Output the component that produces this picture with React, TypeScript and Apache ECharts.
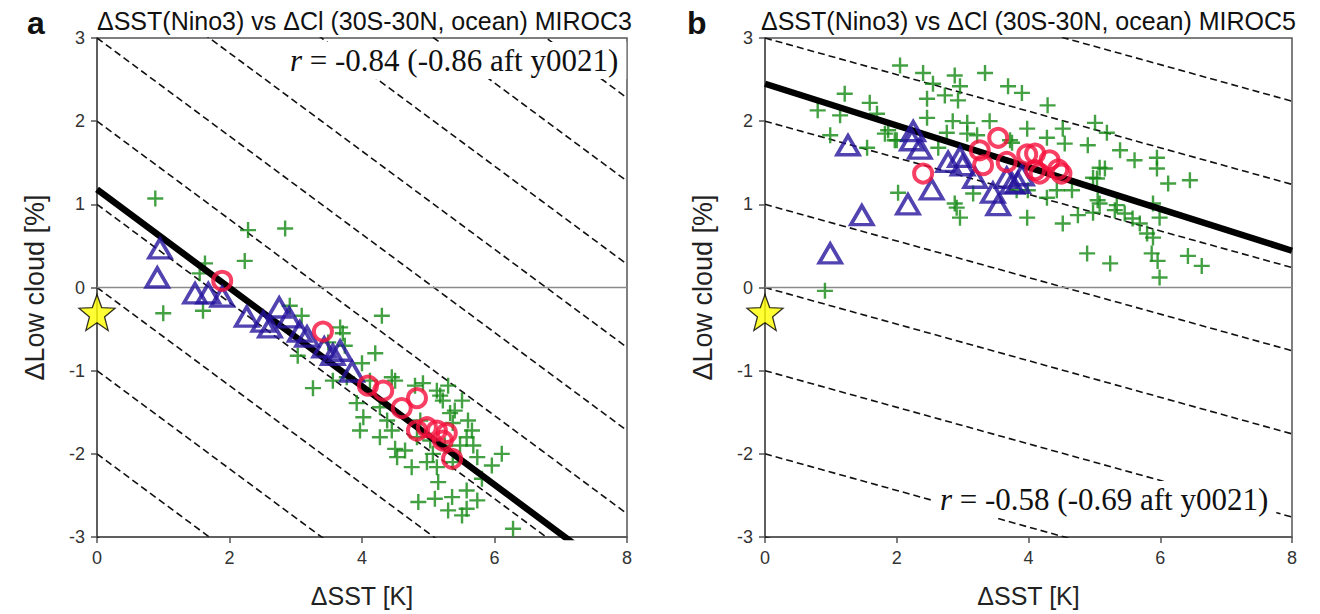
import React, { useEffect, useRef } from "react";
import * as echarts from "echarts";

// ---------- Panel a: MIROC3 ----------
const miroc3Cross: [number, number][] = [
  [0.88, 1.07], [2.28, 0.69], [2.84, 0.71], [2.23, 0.32], [1.63, 0.29], [1.55, 0.17],
  [1.0, -0.31], [1.6, -0.28], [2.91, -0.22], [3.09, -0.34], [3.67, -0.48], [3.71, -0.55],
  [4.3, -0.34], [3.03, -0.82], [4.2, -0.79], [4.0, -0.91], [3.26, -1.21], [3.56, -1.12],
  [3.77, -1.08], [4.45, -1.08], [4.5, -1.12], [3.92, -1.39], [4.02, -1.56], [3.97, -1.72],
  [4.27, -1.44], [4.38, -1.6], [4.45, -1.72], [4.27, -1.8], [4.65, -1.96], [4.53, -2.04],
  [4.75, -2.16], [4.92, -1.15], [5.13, -1.24], [5.18, -1.3], [5.51, -1.36], [5.22, -1.36],
  [5.33, -1.51], [5.37, -1.63], [5.6, -1.6], [5.66, -1.72], [5.58, -1.8], [5.68, -1.9],
  [5.07, -2.0], [4.98, -2.1], [5.13, -2.16], [5.37, -2.1], [5.74, -2.04], [6.11, -2.0],
  [5.96, -2.14], [5.81, -2.3], [5.58, -2.44], [5.36, -2.52], [5.1, -2.54], [4.85, -2.58],
  [5.3, -2.68], [5.58, -2.66], [5.74, -2.56], [5.51, -2.74], [5.15, -2.34], [6.28, -2.9],
  [4.12, -1.12], [4.83, -1.8], [4.5, -1.94], [3.49, -0.66], [3.74, -0.7], [4.8, -1.18],
  [5.3, -1.18], [5.4, -1.48], [4.88, -1.6], [5.03, -1.84], [5.25, -1.9], [5.48, -1.9],
];
const miroc3Tri: [number, number][] = [
  [0.95, 0.47], [0.91, 0.12], [1.48, -0.07], [1.68, -0.07], [1.89, -0.11], [2.26, -0.35],
  [2.51, -0.41], [2.61, -0.48], [2.75, -0.24], [2.9, -0.36], [3.06, -0.53], [3.17, -0.59],
  [3.43, -0.72], [3.56, -0.81], [3.67, -0.76], [3.85, -1.01],
];
const miroc3Circle: [number, number][] = [
  [1.89, 0.08], [3.41, -0.53], [4.09, -1.18], [4.32, -1.24], [4.6, -1.45], [4.83, -1.33],
  [4.83, -1.72], [4.98, -1.68], [5.13, -1.72], [5.28, -1.75], [5.22, -1.84], [5.36, -2.06],
];
const miroc3Fit = { intercept: 1.18, slope: -0.592 };
const miroc3Guides = [-3, -2, -1, 0, 1, 2, 3, 4, 5, 6, 7, 8];
const miroc3GuideSlope = -0.59;
const miroc3R = "-0.84 (-0.86 aft y0021)";

// ---------- Panel b: MIROC5 ----------
const miroc5Cross: [number, number][] = [
  [2.05, 2.67], [2.4, 2.58], [2.88, 2.55], [3.34, 2.58], [2.55, 2.45], [2.96, 2.42],
  [1.21, 2.33], [2.73, 2.31], [1.59, 2.22], [2.46, 2.27], [2.93, 2.25], [0.8, 2.13],
  [1.14, 2.07], [1.7, 2.09], [2.46, 2.04], [2.85, 2.0], [3.07, 1.98], [3.41, 2.0],
  [3.69, 2.42], [3.9, 2.34], [3.98, 1.91], [0.99, 1.83], [1.82, 1.85], [2.0, 1.77],
  [1.55, 1.68], [2.76, 1.86], [3.07, 1.85], [3.22, 1.83], [2.63, 1.68], [3.72, 1.77],
  [3.82, 1.17], [3.98, 0.84], [3.16, 1.13], [2.91, 0.96], [2.96, 0.84], [2.02, 1.14],
  [0.91, -0.04], [4.29, 2.19], [5.01, 1.98], [5.19, 1.86], [5.39, 1.65], [5.61, 1.53],
  [4.9, 1.71], [5.08, 1.44], [4.98, 1.32], [4.52, 1.91], [4.55, 1.73], [4.28, 1.8],
  [3.75, 1.74], [1.87, 1.89], [1.97, 1.77], [4.28, 1.08], [4.43, 1.17], [4.66, 1.17],
  [5.05, 1.05], [5.34, 0.99], [2.88, 1.01], [3.99, 1.17], [5.95, 1.56], [5.95, 1.43],
  [6.12, 1.25], [6.45, 1.29], [5.16, 1.43], [5.04, 1.31], [5.08, 1.01], [4.75, 0.87],
  [4.98, 0.9], [5.31, 0.93], [5.46, 0.89], [5.58, 0.83], [5.69, 0.77], [5.89, 1.01],
  [5.99, 0.84], [5.8, 0.65], [5.89, 0.6], [5.87, 0.41], [5.96, 0.32], [5.99, 0.12],
  [5.24, 0.29], [4.89, 0.41], [6.42, 0.38], [6.63, 0.26], [4.52, 0.77],
];
const miroc5Tri: [number, number][] = [
  [1.26, 1.71], [0.99, 0.41], [1.47, 0.87], [2.17, 1.0], [2.25, 1.88], [2.23, 1.77],
  [2.35, 1.67], [2.53, 1.18], [2.78, 1.51], [2.96, 1.57], [3.0, 1.47], [3.19, 1.32],
  [3.46, 1.14], [3.54, 0.99], [3.67, 1.32], [3.75, 1.25], [3.84, 1.26], [3.9, 1.35],
];
const miroc5Circle: [number, number][] = [
  [2.4, 1.37], [3.54, 1.8], [3.26, 1.65], [3.31, 1.47], [3.67, 1.51], [3.98, 1.6],
  [4.1, 1.61], [4.1, 1.41], [4.32, 1.53], [4.45, 1.42], [4.5, 1.37], [4.17, 1.37],
];
const miroc5Fit = { intercept: 2.45, slope: -0.251 };
const miroc5Guides = [-3, -2, -1, 0, 1, 2, 3, 4, 5];
const miroc5GuideSlope = -0.22;
const miroc5R = "-0.58 (-0.69 aft y0021)";

// Observation reference point (star)
const observed: [number, number][] = [[0, -0.3]];

const xTicks = { min: 0, max: 8, interval: 2 };
const yTicks = { min: -3, max: 3, interval: 1 };

const SANS = "'Liberation Sans', Arial, sans-serif";
const SERIF = "'Liberation Serif', 'Times New Roman', serif";

const PLUS = "path://M6.8,0H9.2V6.8H16V9.2H9.2V16H6.8V9.2H0V6.8H6.8Z";
const STAR = (() => {
  let d = "";
  for (let i = 0; i < 10; i++) {
    const r = i % 2 === 0 ? 1 : 0.42;
    const a = (-90 + i * 36) * (Math.PI / 180);
    d += (i === 0 ? "M" : "L") + (r * Math.cos(a)).toFixed(4) + "," + (r * Math.sin(a)).toFixed(4);
  }
  return "path://" + d + "Z";
})();

function panelSeries(
  idx: number,
  cross: [number, number][],
  tri: [number, number][],
  circ: [number, number][],
  fit: { intercept: number; slope: number },
  guides: number[],
  guideSlope: number
) {
  const base = { xAxisIndex: idx, yAxisIndex: idx, silent: true };
  const list: any[] = [];
  guides.forEach((c) => {
    list.push({
      ...base,
      type: "line",
      symbol: "none",
      clip: true,
      z: 1,
      lineStyle: { color: "#111", width: 1.6, type: [7, 4] },
      data: [
        [xTicks.min, c + guideSlope * xTicks.min],
        [xTicks.max, c + guideSlope * xTicks.max],
      ],
    });
  });
  list.push({
    ...base,
    type: "line",
    symbol: "none",
    z: 1,
    lineStyle: { color: "#8a8a8a", width: 1.5 },
    data: [
      [xTicks.min, 0],
      [xTicks.max, 0],
    ],
  });
  list.push({
    ...base,
    type: "scatter",
    symbol: PLUS,
    symbolSize: 16,
    z: 2,
    itemStyle: { color: "#148a14" },
    data: cross,
  });
  list.push({
    ...base,
    type: "line",
    symbol: "none",
    clip: true,
    z: 3,
    lineStyle: { color: "#000", width: 6.5 },
    data: [
      [xTicks.min, fit.intercept + fit.slope * xTicks.min],
      [xTicks.max, fit.intercept + fit.slope * xTicks.max],
    ],
  });
  list.push({
    ...base,
    type: "scatter",
    symbol: "triangle",
    symbolSize: [22, 19],
    z: 4,
    itemStyle: { color: "rgba(0,0,0,0)", borderColor: "#25149c", borderWidth: 3.6 },
    data: tri,
  });
  list.push({
    ...base,
    type: "scatter",
    symbol: "circle",
    symbolSize: 18,
    z: 5,
    itemStyle: { color: "rgba(0,0,0,0)", borderColor: "#f5103c", borderWidth: 4 },
    data: circ,
  });
  list.push({
    ...base,
    type: "scatter",
    symbol: STAR,
    symbolSize: 36,
    clip: false,
    z: 6,
    itemStyle: { color: "#ffff00", borderColor: "#000", borderWidth: 1.3 },
    data: observed,
  });
  return list;
}

function axisPair(idx: number) {
  const common = {
    gridIndex: idx,
    type: "value" as const,
    splitLine: { show: false },
    axisLine: { show: true, onZero: false, lineStyle: { color: "#555", width: 1.5 } },
    axisTick: { show: true, inside: false, length: 6, lineStyle: { color: "#555", width: 1.5 } },
  };
  return {
    x: {
      ...common,
      ...xTicks,
      name: "ΔSST [K]",
      nameLocation: "middle",
      nameGap: 46,
      nameTextStyle: { fontFamily: SANS, fontSize: 25, color: "#222" },
      axisLabel: { fontFamily: SANS, fontSize: 18, color: "#333", margin: 12 },
    },
    y: {
      ...common,
      ...yTicks,
      name: "ΔLow cloud [%]",
      nameLocation: "middle",
      nameGap: 49,
      nameTextStyle: { fontFamily: SANS, fontSize: 27, color: "#222" },
      axisLabel: { fontFamily: SANS, fontSize: 18, color: "#333", margin: 12 },
    },
  };
}

function rLabel(value: string, left: number, top: number) {
  return {
    text: "{i|r} = " + value,
    left,
    top,
    padding: [3, 8, 3, 8],
    backgroundColor: "#ffffff",
    textStyle: {
      fontFamily: SERIF,
      fontSize: 31,
      fontWeight: "normal",
      color: "#111",
      rich: {
        i: { fontFamily: SERIF, fontSize: 31, fontStyle: "italic", color: "#111" },
      },
    },
  };
}

export default function App() {
  const ref = useRef<HTMLDivElement>(null);

  useEffect(() => {
    document.body.style.margin = "0";
    if (!ref.current) return;
    const chart = echarts.init(ref.current, undefined, { renderer: "svg" });
    const a = axisPair(0);
    const b = axisPair(1);
    chart.setOption({
      animation: false,
      backgroundColor: "#fff",
      grid: [
        { left: 97, top: 38, width: 530, height: 499, show: true, borderColor: "#555", borderWidth: 1.5 },
        { left: 765, top: 38, width: 527, height: 499, show: true, borderColor: "#555", borderWidth: 1.5 },
      ],
      xAxis: [a.x, b.x],
      yAxis: [a.y, b.y],
      title: [
        { text: "a", left: 22, top: 2, textStyle: { fontFamily: SANS, fontSize: 32, fontWeight: "bold", color: "#111" } },
        { text: "b", left: 682, top: 2, textStyle: { fontFamily: SANS, fontSize: 32, fontWeight: "bold", color: "#111" } },
        {
          text: "ΔSST(Nino3) vs ΔCl (30S-30N, ocean) MIROC3",
          left: 92,
          top: 3,
          textStyle: { fontFamily: SANS, fontSize: 25, fontWeight: "normal", color: "#111" },
        },
        {
          text: "ΔSST(Nino3) vs ΔCl (30S-30N, ocean) MIROC5",
          left: 756,
          top: 3,
          textStyle: { fontFamily: SANS, fontSize: 25, fontWeight: "normal", color: "#111" },
        },
        rLabel(miroc3R, 282, 42),
        rLabel(miroc5R, 932, 481),
      ],
      series: [
        ...panelSeries(0, miroc3Cross, miroc3Tri, miroc3Circle, miroc3Fit, miroc3Guides, miroc3GuideSlope),
        ...panelSeries(1, miroc5Cross, miroc5Tri, miroc5Circle, miroc5Fit, miroc5Guides, miroc5GuideSlope),
      ],
    });
    return () => chart.dispose();
  }, []);

  return <div ref={ref} style={{ width: 1320, height: 614 }} />;
}
